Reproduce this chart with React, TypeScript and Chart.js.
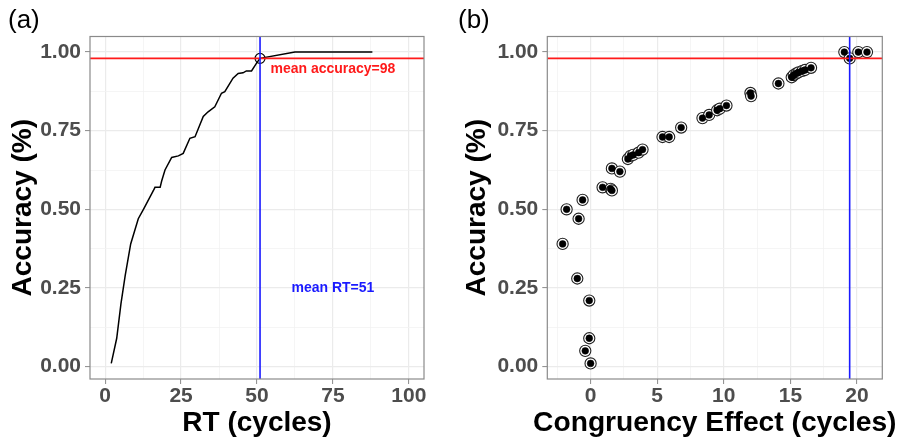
import React, { useEffect, useRef } from 'react';
import { Chart, registerables } from 'chart.js';

Chart.register(...registerables);

// ---------- data ----------
// Panel (a): cumulative accuracy against RT (cycles)
const RT_CYCLES = [2, 3.8, 5.2, 6.6, 8.4, 10.9, 12.6, 15.9, 16.4, 18.1, 18.6, 19.7, 21.9, 24.1, 25.7, 27.9, 29.6, 32.3, 33.9, 36.1, 38.3, 39.4, 42.1, 43.8, 45.4, 46.5, 48.2, 49.8, 51, 62.5, 88];
const RT_ACCURACY = [0.01, 0.09, 0.2, 0.29, 0.39, 0.47, 0.5, 0.56, 0.57, 0.57, 0.59, 0.625, 0.665, 0.67, 0.678, 0.726, 0.731, 0.795, 0.81, 0.826, 0.869, 0.874, 0.917, 0.932, 0.934, 0.94, 0.94, 0.964, 0.98, 1.0, 1.0];

// Panel (b): accuracy against congruency effect (cycles)
const CE_CYCLES = [-2.1, -1.8, -0.9, -0.6, -1.0, -0.1, -0.1, -0.4, 0.0, 0.9, 1.5, 1.6, 1.6, 2.2, 2.8, 3.0, 3.2, 3.6, 3.9, 5.4, 5.9, 6.8, 8.4, 8.9, 9.5, 9.7, 10.2, 12.0, 12.05, 14.1, 15.1, 15.25, 15.45, 15.6, 15.9, 16.1, 16.55, 19.05, 19.45, 20.1, 20.75];
const CE_ACCURACY = [0.39, 0.5, 0.47, 0.53, 0.28, 0.21, 0.09, 0.05, 0.01, 0.57, 0.565, 0.56, 0.63, 0.62, 0.66, 0.67, 0.673, 0.68, 0.69, 0.73, 0.73, 0.76, 0.79, 0.8, 0.815, 0.82, 0.83, 0.87, 0.86, 0.9, 0.92, 0.927, 0.932, 0.935, 0.94, 0.943, 0.95, 1.0, 0.98, 1.0, 1.0];

const MEAN_ACC = 0.98;
const MEAN_RT = 51;
const MEAN_CE = 19.45;

const RT_TICKS = [0, 25, 50, 75, 100];
const CE_TICKS = [0, 5, 10, 15, 20];
const ACC_TICKS = [0, 0.25, 0.5, 0.75, 1.0];

const LABEL_ACC = 'mean accuracy=98';
const LABEL_ACC_AT = [75, 0.945];
const LABEL_RT = 'mean RT=51';
const LABEL_RT_AT = [75, 0.25];

const TITLE_RT = 'RT (cycles)';
const TITLE_CE = 'Congruency Effect (cycles)';
const TITLE_ACC = 'Accuracy (%)';

// ---------- styles ----------
const FONT = '"Liberation Sans", Arial, Helvetica, sans-serif';
const TICK_FONT = { family: FONT, size: 21, weight: 'bold' as const };
const MAJOR_GRID = '#ebebeb';
const MINOR_GRID = '#f3f3f3';
const AXIS_GREY = '#8a8a8a';
const RED = '#ff1a1a';
const BLUE = '#1a1aff';

function gridValues(majors: number[], min: number, max: number) {
  const step = majors[1] - majors[0];
  const out: number[] = [];
  for (let v = majors[0] - step; v <= majors[majors.length - 1] + step + 1e-9; v += step / 2) {
    if (v >= min - 1e-9 && v <= max + 1e-9) out.push(+v.toFixed(6));
  }
  return out;
}

function makeScale(kind: 'x' | 'y', min: number, max: number, majors: number[], fmt: (v: number) => string, title: string | null, titleSize: number, size: number, titlePad: any) {
  const all = gridValues(majors, min, max);
  const isMajor = (v: number) => majors.some((m) => Math.abs(m - v) < 1e-9);
  return {
    type: 'linear',
    position: kind === 'x' ? 'bottom' : 'left',
    min,
    max,
    afterBuildTicks: (s: any) => {
      s.ticks = all.map((v) => ({ value: v }));
    },
    afterFit: (s: any) => {
      if (kind === 'x') s.height = size;
      else s.width = size;
    },
    ticks: {
      autoSkip: false,
      maxRotation: 0,
      minRotation: 0,
      padding: kind === 'x' ? 0 : 4,
      color: '#4d4d4d',
      font: TICK_FONT,
      callback: (v: any) => (isMajor(+v) ? fmt(+v) : ''),
    },
    grid: {
      color: (c: any) => (isMajor(c.tick?.value) ? MAJOR_GRID : MINOR_GRID),
      lineWidth: (c: any) => (isMajor(c.tick?.value) ? 1.2 : 0.8),
      tickLength: 5,
      tickWidth: 1,
      tickColor: (c: any) => (isMajor(c.tick?.value) ? AXIS_GREY : 'rgba(0,0,0,0)'),
      drawTicks: true,
    },
    border: { display: false },
    title: {
      display: !!title,
      text: title || '',
      color: '#000',
      font: { family: FONT, size: titleSize, weight: 'bold' as const },
      padding: titlePad,
    },
  };
}

// reference lines, annotations, full panel border and (optionally) a wide x title
function refPlugin(vValue: number, labels: { text: string; at: number[]; color: string }[], wideTitle: { text: string; size: number } | null) {
  return {
    id: 'refs',
    afterDatasetsDraw(chart: any) {
      const { ctx, chartArea: a, scales } = chart;
      const yPix = scales.y.getPixelForValue(MEAN_ACC);
      const xPix = scales.x.getPixelForValue(vValue);
      ctx.save();
      ctx.lineWidth = 1.6;
      ctx.strokeStyle = RED;
      ctx.beginPath();
      ctx.moveTo(a.left, yPix);
      ctx.lineTo(a.right, yPix);
      ctx.stroke();
      ctx.strokeStyle = BLUE;
      ctx.beginPath();
      ctx.moveTo(xPix, a.top);
      ctx.lineTo(xPix, a.bottom);
      ctx.stroke();
      ctx.font = `bold 14px ${FONT}`;
      ctx.textAlign = 'center';
      ctx.textBaseline = 'middle';
      labels.forEach((l) => {
        ctx.fillStyle = l.color;
        ctx.fillText(l.text, scales.x.getPixelForValue(l.at[0]), scales.y.getPixelForValue(l.at[1]));
      });
      ctx.restore();
    },
    afterDraw(chart: any) {
      const { ctx, chartArea: a, height } = chart;
      ctx.save();
      ctx.strokeStyle = AXIS_GREY;
      ctx.lineWidth = 1.2;
      ctx.strokeRect(a.left, a.top, a.right - a.left, a.bottom - a.top);
      if (wideTitle) {
        ctx.font = `bold ${wideTitle.size}px ${FONT}`;
        ctx.fillStyle = '#000';
        ctx.textAlign = 'center';
        ctx.textBaseline = 'middle';
        ctx.fillText(wideTitle.text, (a.left + a.right) / 2, height - 18);
      }
      ctx.restore();
    },
  };
}

const baseOptions = (padding: any, scales: any) => ({
  animation: false,
  responsive: false,
  maintainAspectRatio: false,
  layout: { padding },
  plugins: { legend: { display: false }, tooltip: { enabled: false }, title: { display: false } },
  scales,
});

export default function App() {
  const refA = useRef<HTMLCanvasElement>(null);
  const refB = useRef<HTMLCanvasElement>(null);

  useEffect(() => {
    const accFmt = (v: number) => v.toFixed(2);
    const intFmt = (v: number) => String(v);

    const chartA = new Chart(refA.current as HTMLCanvasElement, {
      type: 'scatter',
      data: {
        datasets: [
          {
            data: RT_CYCLES.map((x, i) => ({ x, y: RT_ACCURACY[i] })),
            showLine: true,
            borderColor: '#000',
            borderWidth: 1.5,
            pointRadius: 0,
            tension: 0,
            order: 1,
          },
          {
            data: [{ x: MEAN_RT, y: MEAN_ACC }],
            pointRadius: 5,
            pointBackgroundColor: 'rgba(0,0,0,0)',
            pointBorderColor: '#000',
            pointBorderWidth: 1.2,
            order: 0,
          },
        ],
      },
      options: baseOptions({ top: 36.5, right: 26, bottom: 0, left: 0 }, {
        x: makeScale('x', -5, 105, RT_TICKS, intFmt, TITLE_RT, 28, 62, { top: 0, bottom: 1 }),
        y: makeScale('y', -0.0395, 1.0495, ACC_TICKS, accFmt, TITLE_ACC, 28, 90, { top: 6, bottom: 0 }),
      }) as any,
      plugins: [
        refPlugin(MEAN_RT, [
          { text: LABEL_ACC, at: LABEL_ACC_AT, color: RED },
          { text: LABEL_RT, at: LABEL_RT_AT, color: BLUE },
        ], null),
      ],
    });

    const chartB = new Chart(refB.current as HTMLCanvasElement, {
      type: 'scatter',
      data: {
        datasets: [
          {
            data: CE_CYCLES.map((x, i) => ({ x, y: CE_ACCURACY[i] })),
            pointRadius: 5.6,
            backgroundColor: '#fff',
            borderColor: '#222',
            pointBackgroundColor: '#fff',
            pointBorderColor: '#222',
            pointBorderWidth: 1.1,
            order: 1,
          },
          {
            data: CE_CYCLES.map((x, i) => ({ x, y: CE_ACCURACY[i] })),
            pointRadius: 3.4,
            backgroundColor: '#000',
            borderColor: '#000',
            pointBackgroundColor: '#000',
            pointBorderColor: '#000',
            pointBorderWidth: 0.5,
            order: 0,
          },
        ],
      },
      options: baseOptions({ top: 36.5, right: 17.7, bottom: 0, left: 0 }, {
        x: makeScale('x', -3.25, 21.9, CE_TICKS, intFmt, null, 28, 62, { top: 0, bottom: 0 }),
        y: makeScale('y', -0.0395, 1.0495, ACC_TICKS, accFmt, TITLE_ACC, 28, 97.3, { top: 10, bottom: 0 }),
      }) as any,
      plugins: [refPlugin(MEAN_CE, [], { text: TITLE_CE, size: 28.2 })],
    });

    return () => {
      chartA.destroy();
      chartB.destroy();
    };
  }, []);

  const panelLabel: React.CSSProperties = {
    position: 'absolute',
    top: 6,
    fontFamily: FONT,
    fontSize: 26,
    lineHeight: '26px',
    color: '#000',
  };

  return (
    <div style={{ position: 'fixed', left: 0, top: 0, width: 900, height: 441, background: '#fff', overflow: 'hidden' }}>
      <canvas ref={refA} width={450} height={441} style={{ position: 'absolute', left: 0, top: 0, width: 450, height: 441 }} />
      <canvas ref={refB} width={450} height={441} style={{ position: 'absolute', left: 450, top: 0, width: 450, height: 441 }} />
      <div style={{ ...panelLabel, left: 8 }}>(a)</div>
      <div style={{ ...panelLabel, left: 458 }}>(b)</div>
    </div>
  );
}
